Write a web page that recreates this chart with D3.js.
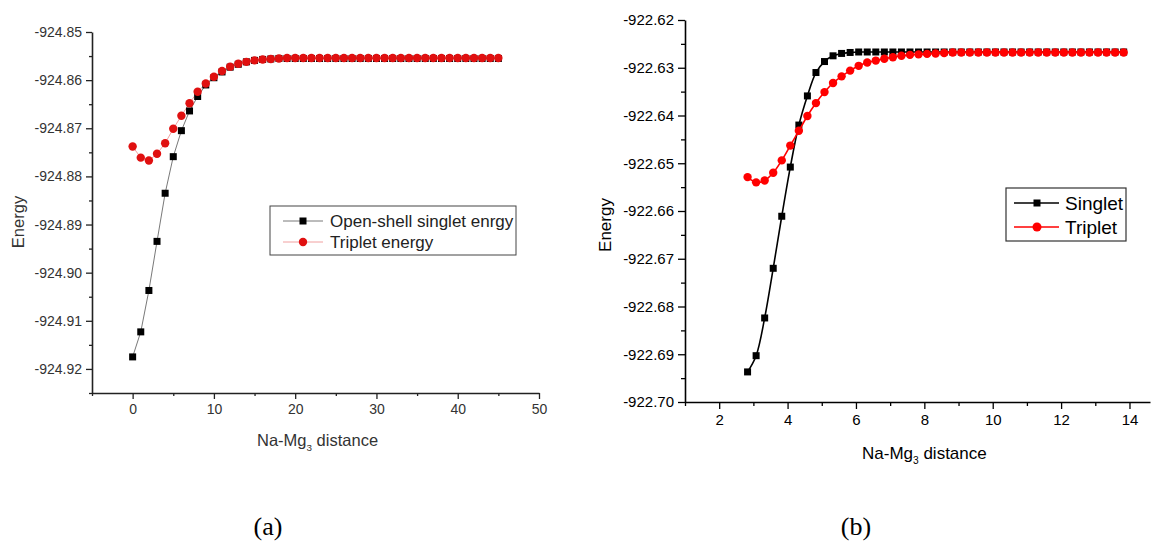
<!DOCTYPE html>
<html>
<head>
<meta charset="utf-8">
<script src="https://cdn.jsdelivr.net/npm/d3@7"></script>
<style>
  body { margin: 0; background: #fff; }
  svg { display: block; font-family: "Liberation Sans", Arial, sans-serif; }
</style>
</head>
<body>
<script>
// ---- data (a) : open-shell singlet / triplet, distance 0..45
var distA = [0,1,2,3,4,5,6,7,8,9,10,11,12,13,14,15,16,17,18,19,20,21,22,23,24,25,26,27,28,29,30,31,32,33,34,35,36,37,38,39,40,41,42,43,44,45];
var singletA = [-924.9175,-924.9123,-924.9037,-924.8935,-924.8835,-924.8759,-924.8705,-924.8664,-924.8634,-924.8610,
  -924.8595,-924.8583,-924.8573,-924.8567,-924.8562,-924.8559,-924.8557,-924.8556,-924.8555,-924.8555,
  -924.8555,-924.8555,-924.8555,-924.8555,-924.8555,-924.8555,-924.8555,-924.8555,-924.8555,-924.8555,
  -924.8555,-924.8555,-924.8555,-924.8555,-924.8555,-924.8555,-924.8555,-924.8555,-924.8555,-924.8555,
  -924.8555,-924.8555,-924.8555,-924.8555,-924.8555,-924.8555];
var tripletA = [-924.8738,-924.8761,-924.8767,-924.8753,-924.8731,-924.8701,-924.8674,-924.8648,-924.8624,-924.8607,
  -924.8593,-924.8581,-924.8572,-924.8566,-924.8562,-924.8559,-924.8557,-924.8556,-924.8555,-924.8554,
  -924.8554,-924.8554,-924.8554,-924.8554,-924.8554,-924.8554,-924.8554,-924.8554,-924.8554,-924.8554,
  -924.8554,-924.8554,-924.8554,-924.8554,-924.8554,-924.8554,-924.8554,-924.8554,-924.8554,-924.8554,
  -924.8554,-924.8554,-924.8554,-924.8554,-924.8554,-924.8554];

// ---- data (b) : singlet / triplet
var distB = [2.83,3.08,3.33,3.58,3.83,4.08,4.33,4.58,4.83,5.08,5.33,5.58,5.83,6.08,6.33,6.58,6.83,7.08,7.33,7.58,7.83,8.08,8.33,8.58,
  8.83,9.08,9.33,9.58,9.83,10.08,10.33,10.58,10.83,11.08,11.33,11.58,11.83,12.08,12.33,12.58,12.83,13.08,13.33,13.58,13.83];
var singletB = [-922.6937,-922.6903,-922.6824,-922.6720,-922.6611,-922.6508,-922.6420,-922.6359,-922.6310,-922.6287,-922.6275,-922.6270,-922.6268,
  -922.6267,-922.6267,-922.6267,-922.6267,-922.6267,-922.6267,-922.6267,-922.6267,-922.6267,-922.6267,-922.6267,-922.6267,-922.6267,
  -922.6267,-922.6267,-922.6267,-922.6267,-922.6267,-922.6267,-922.6267,-922.6267,-922.6267,-922.6267,-922.6267,-922.6267,-922.6267,
  -922.6267,-922.6267,-922.6267,-922.6267,-922.6267,-922.6267];
var tripletB = [-922.6529,-922.6540,-922.6536,-922.6520,-922.6494,-922.6463,-922.6432,-922.6401,-922.6374,-922.6351,-922.6332,-922.6318,
  -922.6306,-922.6296,-922.6289,-922.6285,-922.6281,-922.6278,-922.6275,-922.6273,-922.6272,-922.6271,-922.6270,-922.6269,
  -922.6268,-922.6268,-922.6268,-922.6268,-922.6268,-922.6268,-922.6268,-922.6268,-922.6268,-922.6268,-922.6268,-922.6268,
  -922.6268,-922.6268,-922.6268,-922.6268,-922.6268,-922.6268,-922.6268,-922.6268,-922.6268];

// ---- ticks
var xTicksA = [0,10,20,30,40,50];
var xMinorA = [-5,5,15,25,35,45];
var yTicksA = [-924.92,-924.91,-924.90,-924.89,-924.88,-924.87,-924.86,-924.85];
var yMinorA = [-924.925,-924.915,-924.905,-924.895,-924.885,-924.875,-924.865,-924.855];
var xTicksB = [2,4,6,8,10,12,14];
var xMinorB = [1,3,5,7,9,11,13];
var yTicksB = [-922.70,-922.69,-922.68,-922.67,-922.66,-922.65,-922.64,-922.63,-922.62];
var yMinorB = [-922.695,-922.685,-922.675,-922.665,-922.655,-922.645,-922.635,-922.625];

var legendA = ["Open-shell singlet enrgy", "Triplet energy"];
var legendB = ["Singlet", "Triplet"];

var svg = d3.select("body").append("svg")
  .attr("width", 1158)
  .attr("height", 541);

svg.append("rect").attr("width", 1158).attr("height", 541).attr("fill", "#fff");

function fmt2(d){ return d.toFixed(2); }

// axes for one panel
function drawAxes(g, x, y, o){
  var xAx = g.append("g").attr("transform", `translate(0, ${y.range()[0]})`)
    .call(d3.axisBottom(x).tickValues(o.xTicks).tickFormat(d3.format("d")).tickSize(o.major).tickSizeOuter(0).tickPadding(5));
  g.append("g").attr("transform", `translate(0, ${y.range()[0]})`)
    .call(d3.axisBottom(x).tickValues(o.xMinor).tickFormat("").tickSize(o.minor).tickSizeOuter(0))
    .select(".domain").remove();

  var yAx = g.append("g").attr("transform", `translate(${x.range()[0]}, 0)`)
    .call(d3.axisLeft(y).tickValues(o.yTicks).tickFormat(fmt2).tickSize(o.major).tickSizeOuter(0).tickPadding(4));
  g.append("g").attr("transform", `translate(${x.range()[0]}, 0)`)
    .call(d3.axisLeft(y).tickValues(o.yMinor).tickFormat("").tickSize(o.minor).tickSizeOuter(0))
    .select(".domain").remove();

  g.selectAll(".domain").attr("stroke", o.axisColor).attr("stroke-width", 1.6);
  g.selectAll(".tick line").attr("stroke", o.axisColor).attr("stroke-width", 1.3);
  xAx.selectAll("text").attr("font-size", o.tickFont).attr("fill", o.textColor).attr("font-family", null);
  yAx.selectAll("text").attr("font-size", o.tickFont).attr("fill", o.textColor).attr("font-family", null);

  // axis titles
  g.append("text")
    .attr("transform", `translate(${o.yTitleX}, ${o.yTitleY}) rotate(-90)`)
    .attr("text-anchor", "middle")
    .attr("font-size", o.titleFont)
    .attr("fill", o.textColor)
    .text("Energy");

  var t = g.append("text")
    .attr("x", o.xTitleX).attr("y", o.xTitleY)
    .attr("font-size", o.titleFont)
    .attr("fill", o.textColor);
  t.append("tspan").text("Na-Mg");
  t.append("tspan").attr("font-size", o.titleFont * 0.6).attr("dy", 5).text("3");
  t.append("tspan").attr("dy", -5).text(" distance");
}

function squares(g, pts, size, color){
  g.selectAll(null).data(pts).enter().append("rect")
    .attr("x", function(d){ return d[0] - size/2; })
    .attr("y", function(d){ return d[1] - size/2; })
    .attr("width", size).attr("height", size)
    .attr("fill", color);
}

function circles(g, pts, r, color){
  g.selectAll(null).data(pts).enter().append("circle")
    .attr("cx", function(d){ return d[0]; })
    .attr("cy", function(d){ return d[1]; })
    .attr("r", r)
    .attr("fill", color);
}

/* ------------ panel (a) ------------ */
var gA = svg.append("g");
var xA = d3.scaleLinear().domain([-5, 50]).range([92, 539]);
var yA = d3.scaleLinear().domain([-924.925, -924.85]).range([393, 32]);

drawAxes(gA, xA, yA, {
  xTicks: xTicksA, xMinor: xMinorA, yTicks: yTicksA, yMinor: yMinorA,
  major: 6, minor: 3, axisColor: "#222", textColor: "#333", tickFont: 14,
  titleFont: 16.5, yTitleX: 24, yTitleY: 222, xTitleX: 257, xTitleY: 446
});

var ptsSA = distA.map(function(d, i){ return [xA(d), yA(singletA[i])]; });
var ptsTA = distA.map(function(d, i){ return [xA(d), yA(tripletA[i])]; });

gA.append("path").attr("d", d3.line()(ptsSA)).attr("fill", "none").attr("stroke", "#555").attr("stroke-width", 0.8);
gA.append("path").attr("d", d3.line()(ptsTA)).attr("fill", "none").attr("stroke", "#e88").attr("stroke-width", 0.8);
squares(gA, ptsSA, 7, "#000");
circles(gA, ptsTA, 4.2, "#e01010");

// legend (a)
var lgA = gA.append("g");
lgA.append("rect").attr("x", 270).attr("y", 206).attr("width", 246).attr("height", 49)
  .attr("fill", "none").attr("stroke", "#444").attr("stroke-width", 1);
legendA.forEach(function(name, i){
  var yy = 221 + i*21;
  lgA.append("line").attr("x1", 283).attr("x2", 323).attr("y1", yy).attr("y2", yy)
    .attr("stroke", i == 0 ? "#555" : "#e88").attr("stroke-width", 0.8);
  if(i == 0) squares(lgA, [[303, yy]], 7, "#000");
  else circles(lgA, [[303, yy]], 4.2, "#e01010");
  lgA.append("text").attr("x", 330).attr("y", yy + 6).attr("font-size", 17).attr("fill", "#222").text(name);
});

/* ------------ panel (b) ------------ */
var gB = svg.append("g");
var xB = d3.scaleLinear().domain([1, 14.6]).range([685, 1150]);
var yB = d3.scaleLinear().domain([-922.70, -922.62]).range([402, 20]);

drawAxes(gB, xB, yB, {
  xTicks: xTicksB, xMinor: xMinorB, yTicks: yTicksB, yMinor: yMinorB,
  major: 7, minor: 4, axisColor: "#000", textColor: "#000", tickFont: 15,
  titleFont: 17, yTitleX: 611, yTitleY: 225, xTitleX: 862, xTitleY: 459
});

var ptsSB = distB.map(function(d, i){ return [xB(d), yB(singletB[i])]; });
var ptsTB = distB.map(function(d, i){ return [xB(d), yB(tripletB[i])]; });

var smooth = d3.line().curve(d3.curveCatmullRom);
gB.append("path").attr("d", smooth(ptsSB)).attr("fill", "none").attr("stroke", "#000").attr("stroke-width", 1.6);
squares(gB, ptsSB, 7, "#000");
gB.append("path").attr("d", smooth(ptsTB)).attr("fill", "none").attr("stroke", "#ff0000").attr("stroke-width", 1.6);
circles(gB, ptsTB, 4.2, "#ff0000");

// legend (b)
var lgB = gB.append("g");
lgB.append("rect").attr("x", 1006).attr("y", 188).attr("width", 120).attr("height", 53)
  .attr("fill", "#fff").attr("stroke", "#333").attr("stroke-width", 1.2);
legendB.forEach(function(name, i){
  var yy = 203 + i*24;
  lgB.append("line").attr("x1", 1014).attr("x2", 1059).attr("y1", yy).attr("y2", yy)
    .attr("stroke", i == 0 ? "#000" : "#ff0000").attr("stroke-width", 1.6);
  if(i == 0) squares(lgB, [[1037, yy]], 7, "#000");
  else circles(lgB, [[1037, yy]], 4.5, "#ff0000");
  lgB.append("text").attr("x", 1065).attr("y", yy + 7).attr("font-size", 19).attr("fill", "#000").text(name);
});

// captions
svg.append("text").attr("x", 268).attr("y", 535).attr("text-anchor", "middle")
  .attr("font-family", "'Liberation Serif', 'Times New Roman', serif").attr("font-size", 26).text("(a)");
svg.append("text").attr("x", 856).attr("y", 535).attr("text-anchor", "middle")
  .attr("font-family", "'Liberation Serif', 'Times New Roman', serif").attr("font-size", 26).text("(b)");
</script>
</body>
</html>
